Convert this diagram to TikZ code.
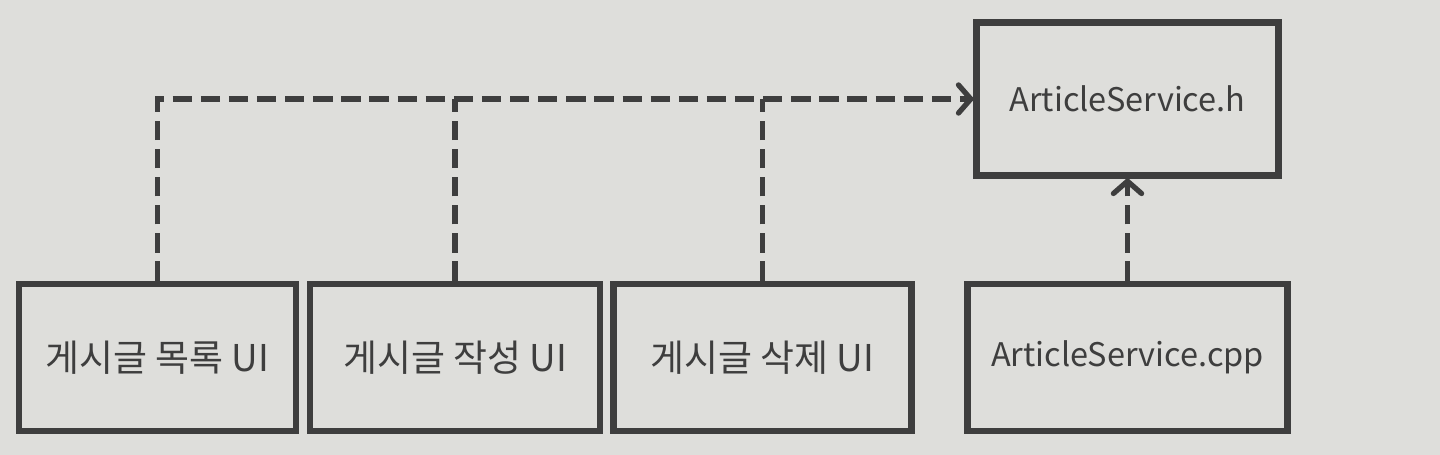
\documentclass[tikz,border=0pt]{standalone}
\usepackage{fontspec}
\setmainfont{Noto Sans CJK KR}
\usetikzlibrary{arrows.meta,positioning}
\definecolor{paper}{RGB}{222,222,219}
\definecolor{ink}{RGB}{62,62,62}

\begin{document}
\begin{tikzpicture}[font=\fontsize{18.5}{22}\selectfont,
    >={Straight Barb[round,length=7pt,width=16pt]},
    box/.style={draw=ink, line width=3.5pt, text=ink, minimum height=2.95cm, inner sep=0pt},
    ui/.style={box, font=\fontsize{21}{24}\selectfont},
    dep/.style={draw=ink, line width=3pt, dash pattern=on 11pt off 5pt}]
    \fill[paper] (0,0) rectangle (28.8,9.1);
    % UI boxes
    \foreach \x/\w/\name/\txt in {
      3.15/5.54/list/게시글 목록 UI,
      9.1/5.8/write/게시글 작성 UI,
      15.25/5.96/delete/게시글 삭제 UI} {
      \node[ui, minimum width=\w cm] (\name) at (\x,1.95) {\txt};
    }
    \node[box, minimum width=6.4cm] (impl) at (22.55,1.95) {ArticleService.cpp};
    \node[box, minimum width=6.04cm, minimum height=3.06cm] (header) at (22.55,7.12) {ArticleService.h};
    % dependencies
    \draw[dep,->] (list.north) |- (header.west);
    \draw[dep] (write.north) -- (write.north |- header.west);
    \draw[dep] (delete.north) -- (delete.north |- header.west);
    \draw[dep,->] (impl.north) -- (header.south);
  \end{tikzpicture}
\end{document}
